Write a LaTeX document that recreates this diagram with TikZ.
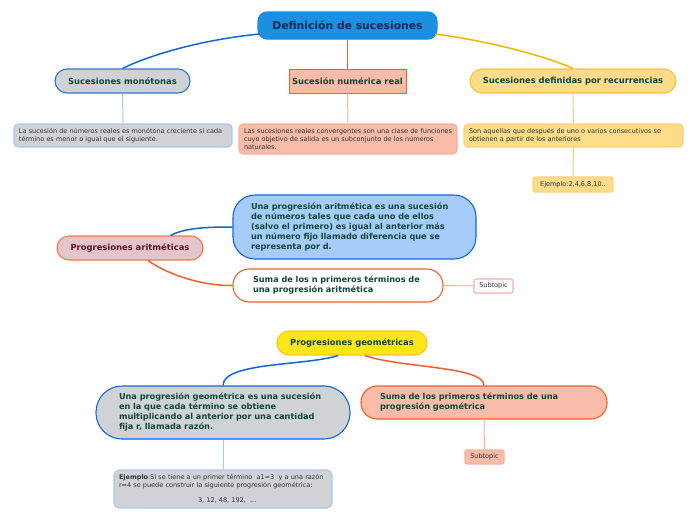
\documentclass[tikz,border=0pt]{standalone}
\usepackage{fontspec}
\setmainfont{DejaVu Sans}
\usetikzlibrary{calc}
\definecolor{rootblue}{HTML}{1B8FE0}
\definecolor{navy}{HTML}{0A2B5C}
\definecolor{dgreen}{HTML}{0F4736}
\definecolor{maroon}{HTML}{5C1426}
\definecolor{txtgray}{HTML}{333333}
\definecolor{grayfill}{HTML}{D0D3D6}
\definecolor{bluebd}{HTML}{2F72D8}
\definecolor{linkblue}{HTML}{1565D8}
\definecolor{salfill}{HTML}{F8BCA8}
\definecolor{salbd}{HTML}{F0602C}
\definecolor{ylfill}{HTML}{FEDC8A}
\definecolor{ylbd}{HTML}{F9C13A}
\definecolor{ylline}{HTML}{F8B400}
\definecolor{pinkfill}{HTML}{E5C5C9}
\definecolor{lbfill}{HTML}{A6CCFC}
\definecolor{yellow2}{HTML}{FFE619}
\definecolor{yellow2bd}{HTML}{F8C51F}
\definecolor{lblue}{HTML}{A8C8F0}
\definecolor{lsal}{HTML}{F8B0A0}
\definecolor{lyl}{HTML}{FDD080}
\tikzset{
  box/.style={draw, line width=1.1pt, inner sep=0pt, align=center},
  title/.style={font=\fontsize{8.4}{10}\selectfont\bfseries, text=dgreen},
  para/.style={font=\fontsize{8.2}{10}\selectfont\bfseries, text=dgreen, align=left},
  small/.style={font=\fontsize{6.5}{8}\selectfont, text=txtgray, align=left},
  conn/.style={line width=1.5pt},
  sub/.style={line width=1pt},
}
\begin{document}
\begin{tikzpicture}[x=1pt,y=-1pt]
\useasboundingbox (0,0) rectangle (696,520);
% top level
\node[box, fill=rootblue, draw=rootblue, rounded corners=9pt, minimum width=179pt, minimum height=27pt,
      font=\fontsize{10.8}{12}\selectfont\bfseries, text=navy] (root) at (347.5,25.5) {Definición de sucesiones};
\node[box, title, fill=grayfill, draw=bluebd, rounded corners=12pt, minimum width=135pt, minimum height=24pt] (monot) at (122.5,81) {Sucesiones monótonas};
\node[box, title, fill=salfill, draw=salbd, line width=0.9pt, minimum width=117pt, minimum height=24pt] (num) at (347.5,81) {Sucesión numérica real};
\node[box, title, fill=ylfill, draw=ylbd, rounded corners=12pt, minimum width=206pt, minimum height=24pt] (rec) at (573,81) {Sucesiones definidas por recurrencias};

\node[box, small, fill=grayfill, draw=lblue, rounded corners=4pt, minimum width=218pt, minimum height=23pt, text width=208pt, inner xsep=5pt] (t1) at (123,135.5)
  {La sucesión de números reales es monótona creciente si cada\\término es menor o igual que el siguiente.};
\node[box, small, fill=salfill, draw=lsal, rounded corners=4pt, minimum width=218pt, minimum height=30pt, text width=208pt, inner xsep=5pt] (t2) at (348,139)
  {Las sucesiones reales convergentes son una clase de funciones\\cuyo objetivo de salida es un subconjunto de los números\\naturales.};
\node[box, small, fill=ylfill, draw=lyl, rounded corners=4pt, minimum width=219pt, minimum height=23pt, text width=209pt, inner xsep=5pt] (t3) at (573.5,135.5)
  {Son aquellas que después de uno o varios consecutivos se\\obtienen a partir de los anteriores};
\node[box, small, fill=ylfill, draw=lyl, rounded corners=2pt, minimum width=80pt, minimum height=15pt, align=center] (ej) at (573,184.5) {Ejemplo:2,4,6,8,10..};

\draw[conn, linkblue] (monot.north) .. controls (150,55) and (200,40) .. ($(root.west)+(2,8.5)$);
\draw[conn, salbd] (root.south) -- (num.north);
\draw[conn, ylline] ($(root.east)+(-2,8.5)$) .. controls (495,42) and (550,58) .. (rec.north);
\draw[sub, lblue] (monot.south) -- (t1.north);
\draw[sub, lsal] (num.south) -- (t2.north);
\draw[sub, lyl] (rec.south) -- (t3.north);
\draw[sub, lyl] (t3.south) -- (ej.north);

% arithmetic
\node[box, title, text=maroon, fill=pinkfill, draw=salbd!85, rounded corners=12pt, minimum width=146pt, minimum height=24pt] (arit) at (130,248) {Progresiones aritméticas};
\node[box, para, fill=lbfill, draw=linkblue, rounded corners=22pt, minimum width=243pt, minimum height=64pt, text width=207pt, inner xsep=18pt] (b10) at (354.5,227)
  {Una progresión aritmética es una sucesión\\de números tales que cada uno de ellos\\(salvo el primero) es igual al anterior más\\un número fijo llamado diferencia que se\\representa por d.};
\node[box, para, fill=white, draw=salbd, rounded corners=16pt, minimum width=210pt, minimum height=33pt, text width=170pt, inner xsep=20pt] (b11) at (338,285.5)
  {Suma de los n primeros términos de\\una progresión aritmética};
\node[box, small, fill=white, draw=lsal, rounded corners=2pt, minimum width=39pt, minimum height=14pt, align=center] (s1) at (493.5,286) {Subtopic};

\draw[conn, linkblue] ($(arit.north east)+(-33,0)$) .. controls (185,228) and (205,227) .. (b10.west);
\draw[conn, salbd] ($(arit.south)+(18,0)$) .. controls (170,276) and (205,286) .. (b11.west);
\draw[sub, lsal] (b11.east) -- (s1.west);

% geometric
\node[box, title, fill=yellow2, draw=yellow2bd, rounded corners=12pt, minimum width=150pt, minimum height=24pt] (geom) at (352,343) {Progresiones geométricas};
\node[box, para, fill=grayfill, draw=linkblue, rounded corners=26pt, minimum width=254pt, minimum height=53pt, text width=208pt, inner xsep=23pt] (b14) at (223,412.5)
  {Una progresión geométrica es una sucesión\\en la que cada término se obtiene\\multiplicando al anterior por una cantidad\\fija r, llamada razón.};
\node[box, para, fill=salfill, draw=salbd, rounded corners=16pt, minimum width=246pt, minimum height=33pt, text width=208pt, inner xsep=19pt] (b15) at (484,402.5)
  {Suma de los primeros términos de una\\progresión geométrica};
\node[box, small, fill=grayfill, draw=lblue, rounded corners=5pt, minimum width=218pt, minimum height=38pt, text width=208pt, inner xsep=5pt] (b16) at (223,489)
  {\textbf{Ejemplo}:Si se tiene a un primer término\ \ a1=3\ \ y a una razón\\r=4 se puede construir la siguiente progresión geométrica:\\[7pt]\hspace*{79pt}3, 12, 48, 192,\ \ ...};
\node[box, small, fill=salfill, draw=lsal, rounded corners=2pt, minimum width=39pt, minimum height=14pt, align=center] (s2) at (484.5,457) {Subtopic};

\draw[conn, linkblue] ($(geom.south)+(-14,0)$) .. controls (305,366) and (223,362) .. (b14.north);
\draw[conn, salbd] ($(geom.south)+(13,0)$) .. controls (400,368) and (484,366) .. (b15.north);
\draw[sub, lblue] (b14.south) -- (b16.north);
\draw[sub, lsal] (b15.south) -- (s2.north);
\end{tikzpicture}
\end{document}
